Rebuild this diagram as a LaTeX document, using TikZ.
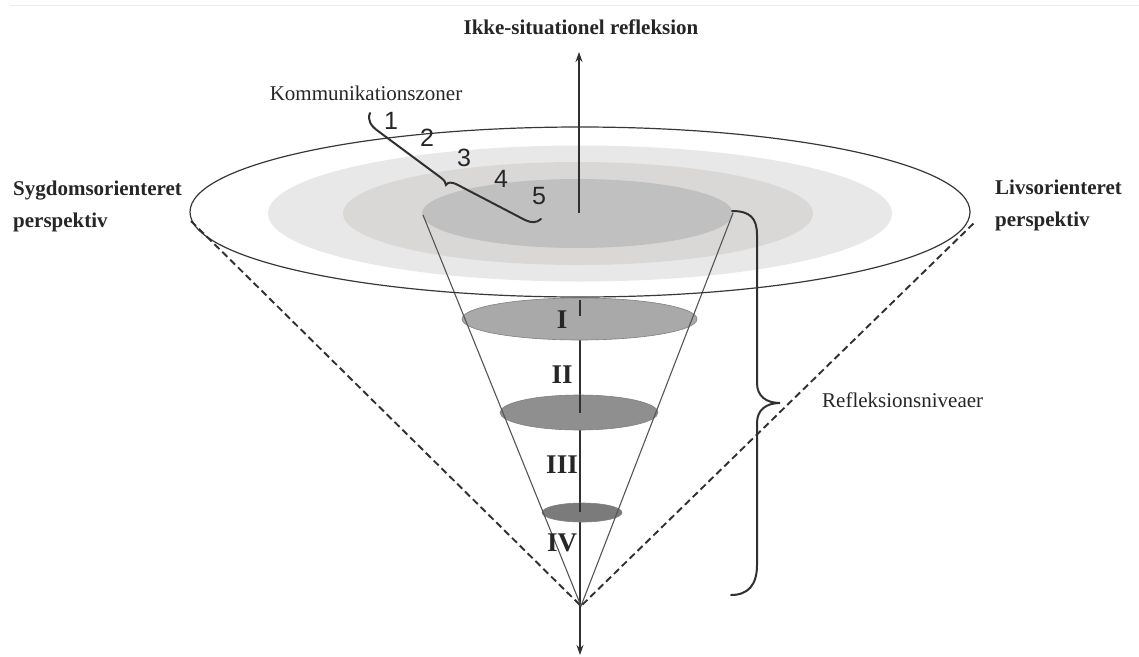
\documentclass[tikz,border=0pt]{standalone}
\usepackage{fontspec}
\setmainfont{Liberation Serif}
\newfontfamily\digitfont{Liberation Sans}
\usetikzlibrary{arrows.meta}
\definecolor{txt}{HTML}{262626}
\definecolor{zoneA}{HTML}{E8E8E8}
\definecolor{zoneB}{HTML}{DAD8D7}
\definecolor{zoneC}{HTML}{C0C0C0}
\definecolor{levI}{HTML}{A9A9A9}
\definecolor{levII}{HTML}{8F8F8F}
\definecolor{levIII}{HTML}{7B7B7B}
\definecolor{linec}{HTML}{303030}
\definecolor{conec}{HTML}{555555}
\begin{document}
\begin{tikzpicture}[x=1pt,y=-1pt,
  lbl/.style={text=txt,inner sep=0pt,font=\fontsize{21}{32}\selectfont},
  boldlbl/.style={text=txt,inner sep=0pt,font=\fontsize{21}{32}\selectfont\bfseries},
  numlbl/.style={text=txt,inner sep=0pt,font=\digitfont\fontsize{25}{27}\selectfont},
  romanlbl/.style={text=txt,inner sep=0pt,font=\fontsize{27}{30}\selectfont\bfseries},
  levelell/.style={draw=black!50,line width=0.6pt},
  conestyle/.style={draw=conec,line width=1.1pt},
  dashstyle/.style={draw=linec,line width=1.9pt,dash pattern=on 7pt off 4pt},
  axisarrow/.style={draw=linec,line width=1.4pt,-{Stealth[length=10pt,width=7pt]}},
  bracestyle/.style={draw=linec,line width=2pt,line cap=round}]
\useasboundingbox (0,0) rectangle (1139,656);
\fill[white] (0,0) rectangle (1139,656);
% faint top rule
\draw[black!7,line width=1pt] (10,5) -- (1139,5);

% named points
\coordinate (apex) at (581,606);
\coordinate (coneL) at (423,215);
\coordinate (coneR) at (733,213);
\coordinate (outL) at (191,221);
\coordinate (outR) at (976,221);
\coordinate (hub) at (579,213);
\coordinate (topTip) at (579,52);
\coordinate (axisTop) at (580,300);
\coordinate (bottomTip) at (580,655);

% communication zones
\fill[white] (580,212) ellipse [x radius=390pt, y radius=85pt];
\fill[zoneA] (580,213.5) ellipse [x radius=312pt, y radius=68pt];
\fill[zoneB] (578,213.5) ellipse [x radius=235pt, y radius=51.5pt];
\fill[zoneC] (577.5,213.5) ellipse [x radius=155.5pt, y radius=34.5pt];

% lower axis
\draw[axisarrow] (axisTop) -- (bottomTip);

% reflection levels
\filldraw[levelell,fill=levI] (579.5,319) ellipse [x radius=117.5pt, y radius=21pt];
\filldraw[levelell,fill=levII] (579,412.5) ellipse [x radius=79pt, y radius=17.5pt];
\filldraw[levelell,fill=levIII] (582,512.5) ellipse [x radius=40pt, y radius=9.5pt];
\draw[linec,line width=1.4pt] (580,300) -- (580,316);
\draw[linec,line width=1.4pt] (580,395) -- (580,413);
\draw[linec,line width=1.4pt] (580,503) -- (580,512);

% cone
\draw[conestyle] (coneL) -- (apex) -- (coneR);

% outer ellipse outline
\draw[black!78,line width=1.2pt] (580,212) ellipse [x radius=390pt, y radius=85pt];

% dashed perspective lines
\draw[dashstyle] (outL) -- (apex) -- (outR);

% upper axis
\draw[axisarrow] (hub) -- (topTip);

% brace: Kommunikationszoner
\draw[bracestyle] (370,113) .. controls (367,120) and (371,126) .. (378,131)
  -- (440,177) .. controls (444,180) and (446,182) .. (446,185)
  .. controls (448,182) and (451,182) .. (456,184)
  -- (525,220) .. controls (531,223) and (537,223) .. (541,219);

% brace: Refleksionsniveaer
\draw[bracestyle] (732,211) .. controls (750,211) and (757,218) .. (757,235)
  -- (757,383) .. controls (757,396) and (766,403) .. (780,403)
  .. controls (766,403) and (757,410) .. (757,423)
  -- (757,565) .. controls (757,585) and (748,595) .. (731,595);

% texts
\node[boldlbl] (title) at (581,27) {Ikke-situationel refleksion};
\node[lbl] (komm) at (366,93) {Kommunikationszoner};
\node[boldlbl,anchor=west,align=left] (sygd) at (13,206) {Sygdomsorienteret\\perspektiv};
\node[boldlbl,anchor=west,align=left] (livs) at (995,205) {Livsorienteret\\perspektiv};
\node[lbl,anchor=west] (refl) at (822,400) {Refleksionsniveaer};

\node[numlbl] (z1) at (391,121) {1};
\node[numlbl] (z2) at (427,138) {2};
\node[numlbl] (z3) at (464,158) {3};
\node[numlbl] (z4) at (501,179) {4};
\node[numlbl] (z5) at (539,196) {5};

\node[romanlbl] (r1) at (562,320) {I};
\node[romanlbl] (r2) at (562,375) {II};
\node[romanlbl] (r3) at (562,465) {III};
\node[romanlbl] (r4) at (562,543) {IV};
\end{tikzpicture}
\end{document}
